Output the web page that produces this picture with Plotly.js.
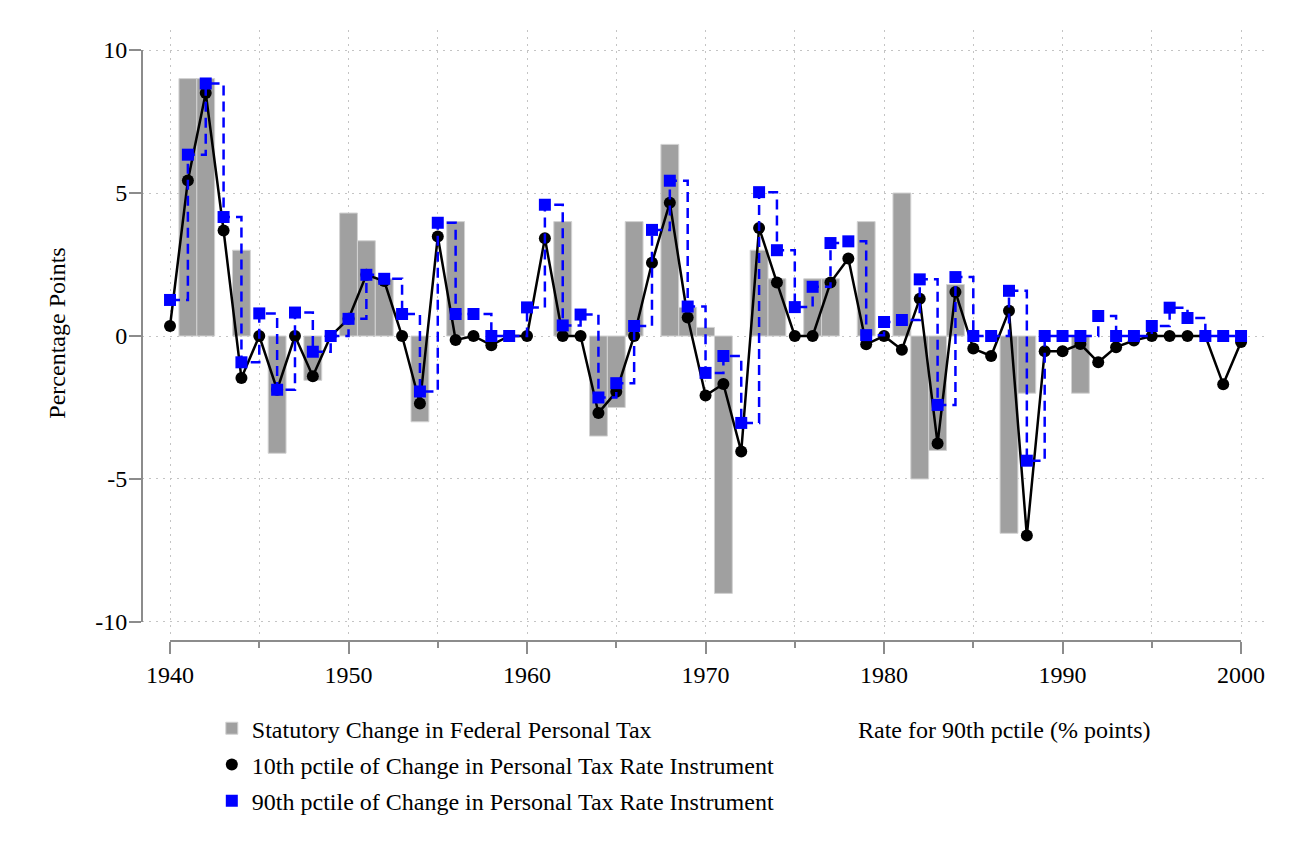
<!DOCTYPE html>
<html>
<head>
<meta charset="utf-8">
<script src="https://cdn.plot.ly/plotly-3.0.1.min.js"></script>
<style>
  html, body { margin: 0; padding: 0; background: #fff; }
  #chart { width: 1299px; height: 866px; }
</style>
</head>
<body>
<div id="chart"></div>
<script>
// ------------------------------------------------------------
// data
// ------------------------------------------------------------

const years = [
  1940, 1941, 1942, 1943, 1944, 1945, 1946, 1947, 1948, 1949,
  1950, 1951, 1952, 1953, 1954, 1955, 1956, 1957, 1958, 1959,
  1960, 1961, 1962, 1963, 1964, 1965, 1966, 1967, 1968, 1969,
  1970, 1971, 1972, 1973, 1974, 1975, 1976, 1977, 1978, 1979,
  1980, 1981, 1982, 1983, 1984, 1985, 1986, 1987, 1988, 1989,
  1990, 1991, 1992, 1993, 1994, 1995, 1996, 1997, 1998, 1999,
  2000
]

// 10th pctile of change in personal tax rate instrument
const pctile10 = [
  0.35, 5.44, 8.5, 3.69, -1.47, 0, -1.88, 0, -1.41, 0,
  0.6, 2.14, 1.92, 0, -2.36, 3.48, -0.14, 0, -0.32, 0,
  0, 3.42, 0, 0, -2.69, -1.95, 0, 2.56, 4.66, 0.65,
  -2.08, -1.68, -4.04, 3.78, 1.87, 0, 0, 1.87, 2.71, -0.29,
  0, -0.48, 1.3, -3.76, 1.54, -0.44, -0.7, 0.88, -6.98, -0.53,
  -0.53, -0.28, -0.92, -0.39, -0.16, 0, 0, 0, 0, -1.69,
  -0.21
]

// 90th pctile of change in personal tax rate instrument
const pctile90 = [
  1.26, 6.34, 8.83, 4.16, -0.92, 0.79, -1.88, 0.82, -0.55, 0,
  0.6, 2.14, 2.0, 0.77, -1.94, 3.96, 0.77, 0.77, 0, 0,
  1.0, 4.59, 0.37, 0.75, -2.15, -1.65, 0.35, 3.71, 5.43, 1.03,
  -1.29, -0.7, -3.04, 5.03, 3.0, 1.01, 1.72, 3.25, 3.31, 0.03,
  0.49, 0.56, 1.98, -2.41, 2.06, 0, 0, 1.58, -4.36, 0,
  0, 0, 0.7, 0, 0, 0.35, 0.99, 0.63, 0, 0,
  0
]

// statutory change in federal personal tax rate for 90th pctile
const statYears = [
  1941, 1942, 1944, 1946, 1948, 1950, 1951, 1952, 1954, 1956,
  1962, 1964, 1965, 1966, 1968, 1969, 1970, 1971, 1973, 1974,
  1976, 1977, 1979, 1981, 1982, 1983, 1984, 1987, 1988, 1991
]
const statChange = [
  9.0, 9.0, 3.0, -4.1, -1.55, 4.3, 3.33, 2.0, -3.0, 4.0,
  4.0, -3.5, -2.5, 4.0, 6.7, 1.0, 0.3, -9.0, 3.0, 2.0,
  2.0, 2.0, 4.0, 5.0, -5.0, -4.0, 1.8, -6.9, -2.0, -2.0
]

const xTicks = [1940, 1950, 1960, 1970, 1980, 1990, 2000]
const yTicks = [-10, -5, 0, 5, 10]
const yTickText = ['-10', '-5', '0', '5', '10']


// ------------------------------------------------------------
// traces
// ------------------------------------------------------------

const serif = 'Liberation Serif, Times New Roman, serif'
const axisGray = '#8c8c8c'
const gridGray = '#c4c4c4'
const txt = { family: serif, size: 24, color: '#000000' }

const barTrace = {
  x: statYears,
  y: statChange,
  type: 'bar',
  width: 1,
  name: 'Statutory Change in Federal Personal Tax',
  marker: { color: '#a0a0a0', line: { color: '#d2d2d2', width: 1 } },
  legendgroup: 'a'
}

// lines and markers are split so the legend shows only the marker (like Stata)
const p10Line = {
  x: years,
  y: pctile10,
  type: 'scatter',
  mode: 'lines',
  line: { color: '#000000', width: 2.5 },
  showlegend: false,
  legendgroup: 'b'
}
const p10Marks = {
  x: years,
  y: pctile10,
  type: 'scatter',
  mode: 'markers',
  name: '10th pctile of Change in Personal Tax Rate Instrument',
  marker: { symbol: 'circle', size: 12, color: '#000000' },
  legendgroup: 'b'
}

const p90Line = {
  x: years,
  y: pctile90,
  type: 'scatter',
  mode: 'lines',
  line: { color: '#0000ff', width: 2.5, dash: '10px,6px', shape: 'hv' },
  showlegend: false,
  legendgroup: 'c'
}
const p90Marks = {
  x: years,
  y: pctile90,
  type: 'scatter',
  mode: 'markers',
  name: '90th pctile of Change in Personal Tax Rate Instrument',
  marker: { symbol: 'square', size: 12, color: '#0000ff' },
  legendgroup: 'c'
}


// ------------------------------------------------------------
// layout
// ------------------------------------------------------------

const layout = {
  width: 1299,
  height: 866,
  paper_bgcolor: '#ffffff',
  plot_bgcolor: '#ffffff',
  font: txt,
  margin: { l: 142, r: 31, t: 30, b: 225 },
  bargap: 0,
  showlegend: true,
  legend: {
    x: 0.062,
    y: -0.1066,
    xanchor: 'left',
    yanchor: 'top',
    orientation: 'v',
    traceorder: 'grouped',
    tracegroupgap: 2,
    font: txt,
    bgcolor: 'rgba(0,0,0,0)'
  },
  xaxis: {
    range: [1938.43, 2001.51],
    anchor: 'free',
    position: 0,
    tickvals: xTicks,
    ticks: 'outside',
    ticklen: 12,
    tickwidth: 2,
    tickcolor: axisGray,
    showline: false,
    zeroline: false,
    showgrid: true,
    gridcolor: gridGray,
    gridwidth: 1,
    griddash: '2px,5px',
    minor: {
      dtick: 5,
      tick0: 1940,
      ticks: 'outside',
      ticklen: 6,
      tickwidth: 2,
      tickcolor: axisGray,
      showgrid: true,
      gridcolor: gridGray,
      gridwidth: 1,
      griddash: '2px,5px'
    },
    tickfont: txt
  },
  yaxis: {
    domain: [0.0082, 1],
    range: [-10.49, 10.7],
    tickvals: yTicks,
    ticktext: yTickText,
    ticks: 'outside',
    ticklen: 12,
    tickwidth: 2,
    tickcolor: axisGray,
    ticklabelstandoff: -3,
    showline: false,
    zeroline: false,
    showgrid: true,
    gridcolor: gridGray,
    gridwidth: 1,
    griddash: '2px,5px',
    title: { text: 'Percentage Points', font: txt, standoff: 22 },
    tickfont: txt
  },
  shapes: [
    // Stata-style axis lines that stop at the first and last tick
    { type: 'line', xref: 'paper', x0: 0, x1: 0, yref: 'y', y0: -10, y1: 10,
      line: { color: axisGray, width: 2 } },
    { type: 'line', xref: 'x', x0: 1940, x1: 2000, yref: 'paper', y0: 0, y1: 0,
      line: { color: axisGray, width: 2 } }
  ],
  annotations: [
    {
      text: 'Rate for 90th pctile (% points)',
      xref: 'paper', yref: 'paper',
      x: 0.634, y: -0.1457,
      xanchor: 'left', yanchor: 'middle',
      showarrow: false,
      font: txt
    }
  ]
}

Plotly.newPlot('chart', [barTrace, p10Line, p10Marks, p90Line, p90Marks], layout, { staticPlot: true })
</script>
</body>
</html>
